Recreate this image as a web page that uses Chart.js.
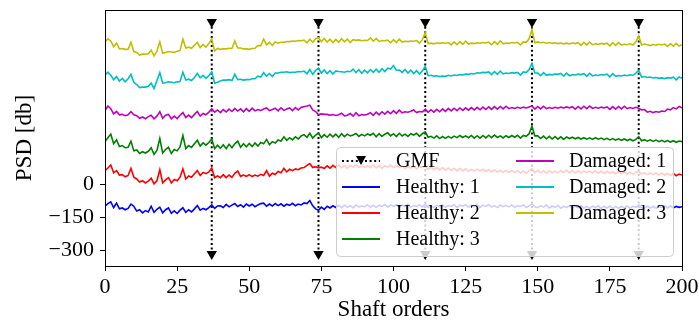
<!DOCTYPE html>
<html>
<head>
<meta charset="utf-8">
<script src="https://cdn.jsdelivr.net/npm/chart.js@4.4.1/dist/chart.umd.min.js"></script>
<style>
  html, body { margin: 0; padding: 0; background: #fff; }
  #wrap { width: 699px; height: 322px; }
</style>
</head>
<body>
<div id="wrap"><canvas id="psd" width="699" height="322"></canvas></div>
<script>
// shaft orders 0..200, one value per order
var orders = [];
for (var k = 0; k <= 200; k++) orders.push(k);

var xTicks = [0, 25, 50, 75, 100, 125, 150, 175, 200];
var yTicks = [-300, -150, 0];
var gmfOrders = [37, 74, 111, 148, 185];
var gmfTop = 740;
var gmfBottom = -315;

var seriesNames = ['Healthy: 1', 'Healthy: 2', 'Healthy: 3', 'Damaged: 1', 'Damaged: 2', 'Damaged: 3'];
var seriesColors = ['#0000ff', '#ff0000', '#008000', '#bf00bf', '#00bfbf', '#bfbf00'];

var healthy1 = [
  -98, -86, -78, -104, -84, -110, -106, -114, -108, -88,
  -98, -120, -114, -128, -118, -124, -98, -126, -112, -102,
  -128, -114, -106, -130, -119, -131, -116, -105, -126, -114,
  -124, -110, -95, -116, -108, -114, -104, -92, -108, -97,
  -96, -104, -90, -101, -93, -86, -99, -91, -102, -88,
  -97, -89, -100, -92, -86, -84, -98, -88, -97, -86,
  -95, -87, -98, -89, -94, -85, -96, -88, -92, -83,
  -86, -72, -96, -110, -116, -102, -112, -98, -106, -96,
  -104, -94, -105, -93, -103, -95, -106, -92, -102, -96,
  -101, -91, -103, -94, -104, -93, -100, -90, -101, -92,
  -99, -91, -104, -93, -100, -89, -102, -95, -98, -92,
  -101, -88, -103, -97, -104, -94, -100, -92, -103, -95,
  -99, -90, -104, -93, -98, -91, -102, -94, -100, -90,
  -103, -93, -99, -90, -102, -95, -104, -92, -100, -94,
  -101, -92, -103, -95, -99, -91, -104, -96, -86, -101,
  -104, -95, -102, -93, -106, -97, -103, -94, -107, -98,
  -104, -96, -108, -97, -105, -95, -107, -98, -109, -97,
  -105, -96, -108, -98, -106, -97, -109, -99, -107, -98,
  -106, -97, -108, -98, -103, -92, -106, -108, -97, -106,
  -98, -107, -99, -104, -96, -106, -97, -105, -99, -103,
  -100
];

var healthy2 = [
  64, 76, 90, 54, 64, 44, 46, 36, 42, 74,
  34, 26, 12, 18, 8, 16, 30, 4, 18, 68,
  8, 22, 32, 8, 24, 18, 34, 72, 26, 40,
  34, 50, 64, 42, 56, 50, 58, 76, 32, 40,
  32, 46, 32, 44, 33, 52, 62, 38, 44, 38,
  46, 37, 44, 39, 47, 42, 64, 39, 52, 46,
  60, 54, 74, 58, 70, 64, 72, 68, 76, 78,
  88, 96, 78, 82, 76, 80, 74, 86, 75, 88,
  78, 90, 76, 88, 74, 87, 80, 92, 79, 85,
  78, 86, 77, 90, 76, 88, 74, 86, 80, 89,
  77, 86, 78, 85, 74, 84, 76, 84, 72, 83,
  78, 84, 70, 80, 68, 78, 67, 77, 66, 76,
  65, 75, 63, 74, 62, 73, 61, 70, 62, 71,
  63, 70, 60, 69, 58, 68, 57, 66, 56, 65,
  55, 65, 54, 64, 53, 63, 52, 64, 72, 55,
  65, 53, 64, 52, 63, 55, 62, 53, 64, 54,
  66, 54, 65, 52, 64, 53, 63, 55, 62, 53,
  63, 52, 62, 51, 61, 53, 59, 50, 60, 51,
  58, 48, 57, 47, 56, 60, 48, 55, 46, 54,
  46, 53, 44, 53, 43, 52, 42, 51, 41, 48,
  44
];

var healthy3 = [
  196, 214, 230, 186, 204, 174, 178, 168, 170, 198,
  154, 158, 142, 150, 144, 152, 168, 138, 156, 210,
  144, 160, 170, 142, 160, 154, 172, 224, 164, 178,
  170, 186, 202, 176, 190, 180, 192, 208, 164, 180,
  166, 182, 164, 184, 168, 186, 198, 170, 186, 172,
  188, 174, 190, 176, 192, 186, 206, 182, 196, 190,
  204, 198, 218, 202, 214, 204, 218, 208, 222, 228,
  216, 234, 212, 226, 236, 214, 228, 216, 230, 218,
  230, 216, 232, 219, 230, 222, 226, 233, 220, 229,
  222, 231, 225, 234, 218, 232, 220, 230, 236, 222,
  232, 219, 234, 222, 230, 220, 232, 226, 234, 220,
  232, 240, 216, 220, 212, 222, 210, 219, 211, 220,
  212, 221, 214, 224, 215, 222, 214, 224, 212, 223,
  212, 224, 213, 225, 214, 226, 215, 222, 213, 223,
  215, 224, 216, 225, 212, 224, 220, 232, 266, 222,
  222, 210, 221, 209, 220, 208, 219, 207, 218, 206,
  217, 210, 216, 209, 215, 208, 214, 207, 213, 206,
  214, 207, 212, 205, 211, 204, 210, 203, 209, 202,
  208, 201, 207, 200, 206, 218, 200, 205, 198, 204,
  197, 203, 196, 202, 195, 201, 194, 200, 193, 199,
  196
];

var damaged1 = [
  337, 358, 346, 322, 334, 318, 320, 314, 318, 332,
  318, 314, 302, 308, 300, 310, 316, 300, 312, 332,
  302, 316, 320, 300, 312, 301, 316, 328, 306, 317,
  305, 320, 333, 312, 324, 318, 330, 346, 330, 340,
  328, 342, 331, 344, 333, 347, 335, 345, 332, 346,
  334, 348, 336, 342, 338, 344, 349, 337, 342, 348,
  336, 350, 338, 344, 349, 337, 351, 340, 352, 355,
  358, 362, 340, 333, 319, 322, 320, 320, 316, 319,
  315, 318, 325, 313, 316, 324, 312, 328, 314, 319,
  317, 321, 328, 316, 330, 318, 332, 321, 334, 323,
  337, 325, 339, 327, 332, 330, 334, 340, 328, 333,
  331, 344, 329, 341, 330, 343, 332, 345, 334, 347,
  336, 348, 337, 349, 338, 350, 339, 351, 340, 352,
  341, 353, 342, 354, 343, 355, 344, 356, 345, 357,
  346, 351, 347, 352, 348, 353, 349, 354, 358, 344,
  356, 345, 357, 346, 351, 347, 352, 348, 353, 349,
  354, 350, 355, 344, 356, 345, 357, 346, 358, 347,
  352, 348, 353, 349, 354, 343, 355, 344, 356, 345,
  357, 346, 351, 347, 352, 348, 340, 342, 330, 334,
  328, 333, 330, 335, 333, 344, 340, 351, 345, 356,
  350
];

var damaged2 = [
  498, 512, 498, 478, 492, 472, 484, 468, 482, 502,
  466, 456, 442, 444, 444, 448, 462, 438, 474, 510,
  462, 464, 468, 466, 464, 468, 470, 512, 476, 480,
  474, 488, 506, 486, 498, 484, 496, 514, 462, 466,
  472, 476, 476, 478, 474, 502, 478, 480, 476, 478,
  478, 482, 482, 494, 490, 510, 494, 506, 492, 508,
  508, 512, 512, 514, 510, 512, 512, 515, 514, 517,
  505, 524, 502, 520, 530, 508, 522, 506, 519, 504,
  518, 515, 514, 512, 516, 514, 526, 510, 523, 507,
  521, 509, 524, 511, 526, 512, 528, 515, 530, 526,
  542, 520, 522, 510, 524, 508, 521, 506, 519, 504,
  518, 538, 496, 498, 494, 496, 492, 494, 493, 498,
  495, 499, 497, 501, 499, 503, 502, 506, 504, 509,
  508, 511, 510, 513, 501, 515, 502, 517, 504, 508,
  506, 510, 508, 511, 499, 513, 510, 524, 552, 508,
  508, 496, 510, 498, 502, 500, 504, 502, 506, 494,
  508, 496, 501, 499, 503, 501, 505, 493, 507, 495,
  499, 497, 501, 499, 503, 491, 505, 493, 497, 495,
  499, 496, 500, 498, 508, 520, 490, 492, 488, 490,
  486, 488, 484, 486, 483, 487, 485, 489, 477, 490,
  484
];

var damaged3 = [
  650, 664, 654, 628, 644, 618, 620, 616, 616, 648,
  606, 602, 590, 594, 594, 596, 612, 586, 608, 650,
  598, 602, 606, 604, 602, 607, 610, 662, 622, 626,
  621, 634, 648, 624, 638, 626, 642, 664, 608, 620,
  616, 618, 618, 621, 620, 654, 622, 622, 618, 618,
  616, 620, 621, 634, 632, 662, 636, 648, 634, 650,
  644, 648, 648, 651, 651, 654, 653, 656, 655, 658,
  646, 662, 648, 664, 670, 651, 665, 649, 662, 647,
  661, 648, 664, 650, 662, 647, 660, 657, 659, 655,
  657, 656, 668, 653, 666, 652, 656, 655, 658, 646,
  660, 647, 662, 649, 653, 651, 654, 653, 656, 644,
  660, 692, 642, 644, 641, 645, 643, 646, 644, 647,
  636, 650, 637, 651, 639, 653, 640, 644, 642, 646,
  644, 647, 645, 649, 637, 651, 639, 654, 641, 645,
  643, 647, 645, 648, 636, 650, 648, 664, 706, 646,
  650, 646, 648, 644, 647, 643, 646, 642, 645, 641,
  644, 641, 645, 642, 646, 634, 648, 636, 649, 637,
  641, 639, 643, 640, 644, 632, 646, 634, 647, 635,
  639, 637, 641, 636, 650, 676, 636, 640, 637, 633,
  638, 635, 639, 636, 640, 629, 642, 630, 643, 631,
  637
];

var seriesValues = [healthy1, healthy2, healthy3, damaged1, damaged2, damaged3];

var FONT = "'Liberation Serif', 'Times New Roman', serif";

function toPoints(values) {
  return values.map(function (v, i) { return { x: orders[i], y: v }; });
}

var datasets = [];
gmfOrders.forEach(function (g) {
  datasets.push({
    label: 'GMF',
    data: [{ x: g, y: gmfTop }, { x: g, y: gmfBottom }],
    borderColor: '#000',
    backgroundColor: '#000',
    borderWidth: 2,
    borderDash: [2, 2.6],
    pointStyle: 'triangle',
    rotation: 180,
    pointRadius: 6,
    pointBorderWidth: 0,
    order: 10
  });
});
seriesValues.forEach(function (vals, i) {
  datasets.push({
    label: seriesNames[i],
    data: toPoints(vals),
    borderColor: seriesColors[i],
    borderWidth: 1.6,
    pointRadius: 0,
    tension: 0,
    order: 6 - i
  });
});

var frameAndLegend = {
  id: 'frameAndLegend',
  afterDraw: function (chart) {
    var ctx = chart.ctx;
    var a = chart.chartArea;
    ctx.save();
    // top and right spines
    ctx.strokeStyle = '#000';
    ctx.lineWidth = 1;
    ctx.strokeRect(Math.round(a.left) + 0.5, Math.round(a.top) + 0.5,
      Math.round(a.right - a.left), Math.round(a.bottom - a.top));

    // legend box, two columns
    var bx = a.left + 231, by = a.top + 137, bw = 337, bh = 109;
    ctx.beginPath();
    ctx.roundRect(bx + 0.5, by + 0.5, bw, bh, 4);
    ctx.fillStyle = 'rgba(255,255,255,0.8)';
    ctx.fill();
    ctx.strokeStyle = '#cccccc';
    ctx.stroke();

    var rowY = [by + 14, by + 40, by + 66, by + 92];
    var cols = [
      { lx: bx + 6, tx: bx + 60, items: [{ gmf: true, label: 'GMF' }, 0, 1, 2] },
      { lx: bx + 180, tx: bx + 233, items: [3, 4, 5] }
    ];
    ctx.font = '20px ' + FONT;
    ctx.textBaseline = 'middle';
    ctx.fillStyle = '#000';
    cols.forEach(function (col) {
      col.items.forEach(function (it, r) {
        var y = rowY[r];
        var label;
        if (it && it.gmf) {
          ctx.setLineDash([2, 2.6]);
          ctx.strokeStyle = '#000';
          ctx.lineWidth = 2;
          ctx.beginPath();
          ctx.moveTo(col.lx, y);
          ctx.lineTo(col.lx + 38, y);
          ctx.stroke();
          ctx.setLineDash([]);
          var cx = col.lx + 19;
          ctx.beginPath();
          ctx.moveTo(cx - 5, y - 5);
          ctx.lineTo(cx + 5, y - 5);
          ctx.lineTo(cx, y + 4);
          ctx.closePath();
          ctx.fill();
          label = it.label;
        } else {
          ctx.strokeStyle = seriesColors[it];
          ctx.lineWidth = 2;
          ctx.beginPath();
          ctx.moveTo(col.lx, y);
          ctx.lineTo(col.lx + 38, y);
          ctx.stroke();
          label = seriesNames[it];
        }
        ctx.fillStyle = '#000';
        ctx.fillText(label, col.tx, y + 1);
      });
    });
    ctx.restore();
  }
};

new Chart(document.getElementById('psd'), {
  type: 'line',
  data: { datasets: datasets },
  plugins: [frameAndLegend],
  options: {
    responsive: false,
    animation: false,
    devicePixelRatio: 1,
    layout: { padding: { left: 0, right: 17, top: 10, bottom: 0 } },
    plugins: { legend: { display: false }, tooltip: { enabled: false } },
    scales: {
      x: {
        type: 'linear',
        min: 0,
        max: 200,
        afterBuildTicks: function (scale) {
          scale.ticks = xTicks.map(function (v) { return { value: v }; });
        },
        afterFit: function (scale) {
          scale.height = 56;
          scale.paddingLeft = 0;
          scale.paddingRight = 0;
        },
        grid: { display: true, drawOnChartArea: false, drawTicks: true, tickLength: 5, color: '#000' },
        border: { display: true, color: '#000', width: 1 },
        ticks: { color: '#000', font: { family: FONT, size: 22 }, padding: 3, maxRotation: 0, autoSkip: false },
        title: { display: true, text: 'Shaft orders', color: '#000', font: { family: FONT, size: 23, lineHeight: 1.05 }, padding: { top: 0, bottom: 0 } }
      },
      y: {
        type: 'linear',
        min: -370,
        max: 795,
        afterBuildTicks: function (scale) {
          scale.ticks = yTicks.map(function (v) { return { value: v }; });
        },
        afterFit: function (scale) {
          scale.width = 105;
          scale.paddingTop = 0;
          scale.paddingBottom = 0;
        },
        grid: { display: true, drawOnChartArea: false, drawTicks: true, tickLength: 5, color: '#000' },
        border: { display: true, color: '#000', width: 1 },
        ticks: {
          color: '#000',
          font: { family: FONT, size: 22 },
          padding: 6,
          callback: function (v) { return v < 0 ? '\u2212' + Math.abs(v) : String(v); }
        },
        title: { display: true, text: 'PSD [db]', color: '#000', font: { family: FONT, size: 23 }, padding: { top: 11, bottom: 0 } }
      }
    }
  }
});
</script>
</body>
</html>
